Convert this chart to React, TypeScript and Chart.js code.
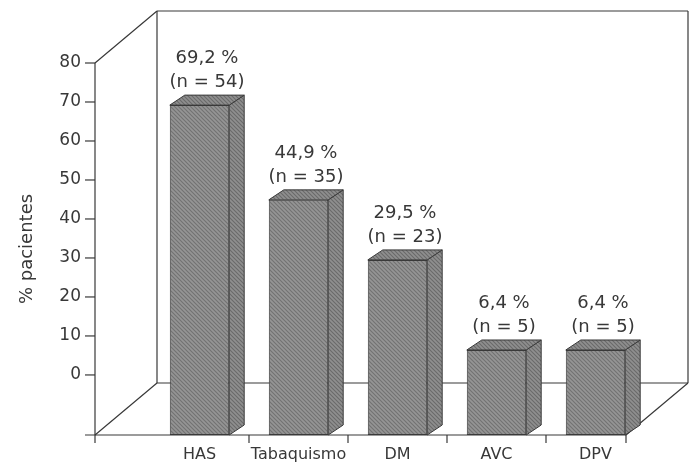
import React, { useEffect, useRef } from 'react';
import { Chart, registerables } from 'chart.js';

Chart.register(...registerables);

const categories = ['HAS', 'Tabaquismo', 'DM', 'AVC', 'DPV'];
const percentValues = [69.2, 44.9, 29.5, 6.4, 6.4];
const patientCounts = [54, 35, 23, 5, 5];
const yTickValues = [0, 10, 20, 30, 40, 50, 60, 70, 80];
const yAxisTitle = '% pacientes';

const FONT = '"DejaVu Sans", "Liberation Sans", Arial, sans-serif';
const INK = '#383838';
const Y_MIN = -15.4;
const Y_MAX = 80;

function makePattern(base: string, line: string): CanvasPattern | string {
  const c = document.createElement('canvas');
  c.width = 4;
  c.height = 4;
  const g = c.getContext('2d');
  if (!g) return base;
  g.fillStyle = base;
  g.fillRect(0, 0, 4, 4);
  g.strokeStyle = line;
  g.lineWidth = 1.1;
  g.beginPath();
  g.moveTo(-1, -1);
  g.lineTo(5, 5);
  g.moveTo(-1, 3);
  g.lineTo(1, 5);
  g.moveTo(3, -1);
  g.lineTo(5, 1);
  g.stroke();
  const p = g.createPattern(c, 'repeat');
  return p || base;
}

const fmt = (v: number) => v.toFixed(1).replace('.', ',') + ' %';

export default function App() {
  const ref = useRef<HTMLCanvasElement | null>(null);

  useEffect(() => {
    if (!ref.current) return;
    const frontPattern = makePattern('#959595', '#727272');
    const sidePattern = makePattern('#8f8f8f', '#6a6a6a');

    const DX = 15;
    const DY = -10;

    const frame3d = {
      id: 'frame3d',
      beforeDatasetsDraw(chart: any) {
        const { ctx, chartArea: a } = chart;
        const fl = a.left - 55;
        const fr = a.right - 19;
        const ft = a.top;
        const fb = a.bottom;
        const dx = 62;
        const dy = -52;
        const line = (x1: number, y1: number, x2: number, y2: number) => {
          ctx.beginPath();
          ctx.moveTo(x1, y1);
          ctx.lineTo(x2, y2);
          ctx.stroke();
        };
        ctx.save();
        ctx.strokeStyle = INK;
        ctx.lineWidth = 1.2;
        line(fl + dx, ft + dy, fr + dx, ft + dy);
        line(fl + dx, ft + dy, fl + dx, fb + dy);
        line(fr + dx, ft + dy, fr + dx, fb + dy);
        line(fl + dx, fb + dy, fr + dx, fb + dy);
        line(fl, ft, fl + dx, ft + dy);
        line(fl, fb, fl + dx, fb + dy);
        line(fr, fb, fr + dx, fb + dy);
        line(fl, ft, fl, fb + 8);
        line(fl - 10, fb, fr, fb);
        const ys = chart.scales.y;
        yTickValues.forEach((v) => {
          const y = ys.getPixelForValue(v);
          line(fl - 10, y, fl, y);
        });
        const xs = chart.scales.x;
        for (let i = 1; i < categories.length; i++) {
          const x = xs.getPixelForValue(i - 0.5);
          line(x, fb, x, fb + 8);
        }
        line(fr, fb, fr, fb + 8);
        ctx.restore();
      },
      afterDatasetsDraw(chart: any) {
        const { ctx } = chart;
        const meta = chart.getDatasetMeta(0);
        ctx.save();
        ctx.strokeStyle = '#3a3a3a';
        ctx.lineWidth = 1;
        meta.data.forEach((bar: any, i: number) => {
          const { x, y, base, width } = bar.getProps(['x', 'y', 'base', 'width'], true);
          const l = x - width / 2;
          const r = x + width / 2;
          ctx.beginPath();
          ctx.moveTo(r, y);
          ctx.lineTo(r + DX, y + DY);
          ctx.lineTo(r + DX, base + DY);
          ctx.lineTo(r, base);
          ctx.closePath();
          ctx.fillStyle = sidePattern;
          ctx.fill();
          ctx.stroke();
          ctx.beginPath();
          ctx.moveTo(l, y);
          ctx.lineTo(l + DX, y + DY);
          ctx.lineTo(r + DX, y + DY);
          ctx.lineTo(r, y);
          ctx.closePath();
          ctx.fillStyle = sidePattern;
          ctx.fill();
          ctx.stroke();
          ctx.fillStyle = INK;
          ctx.font = `18px ${FONT}`;
          ctx.textAlign = 'center';
          ctx.textBaseline = 'alphabetic';
          const cx = x + DX / 2;
          ctx.fillText(`(n = ${patientCounts[i]})`, cx, y - 18);
          ctx.fillText(fmt(percentValues[i]), cx, y - 42);
        });
        ctx.restore();
      },
    };

    const chart = new Chart(ref.current, {
      type: 'bar',
      data: {
        labels: categories,
        datasets: [
          {
            data: percentValues,
            base: Y_MIN,
            backgroundColor: frontPattern as any,
            borderColor: '#3a3a3a',
            borderWidth: 1,
            borderSkipped: false,
            barPercentage: 0.6,
            categoryPercentage: 1,
          } as any,
        ],
      },
      options: {
        animation: false,
        responsive: true,
        maintainAspectRatio: false,
        layout: { padding: { left: 13, right: 52, top: 63, bottom: 0 } },
        plugins: {
          legend: { display: false },
          tooltip: { enabled: false },
        },
        scales: {
          x: {
            grid: { display: false, drawTicks: false },
            border: { display: false },
            afterFit: (s: any) => {
              s.height = 28;
            },
            ticks: {
              padding: 10,
              font: { family: FONT, size: 16 },
              color: INK,
              maxRotation: 0,
              autoSkip: false,
            },
          },
          y: {
            min: Y_MIN,
            max: Y_MAX,
            afterBuildTicks: (s: any) => {
              s.ticks = yTickValues.map((v) => ({ value: v }));
            },
            afterFit: (s: any) => {
              s.width = 137;
              s.paddingTop = 0;
              s.paddingBottom = 0;
            },
            grid: { display: false, drawTicks: false },
            border: { display: false },
            ticks: {
              padding: 69,
              font: { family: FONT, size: 17 },
              color: INK,
            },
            title: {
              display: true,
              text: yAxisTitle,
              font: { family: FONT, size: 18 },
              color: INK,
              padding: { top: 4, bottom: 4 },
            },
          },
        },
      },
      plugins: [frame3d],
    });
    return () => chart.destroy();
  }, []);

  return (
    <div style={{ position: 'fixed', left: 0, top: 0, width: 697, height: 463, background: '#ffffff' }}>
      <canvas ref={ref} />
    </div>
  );
}
